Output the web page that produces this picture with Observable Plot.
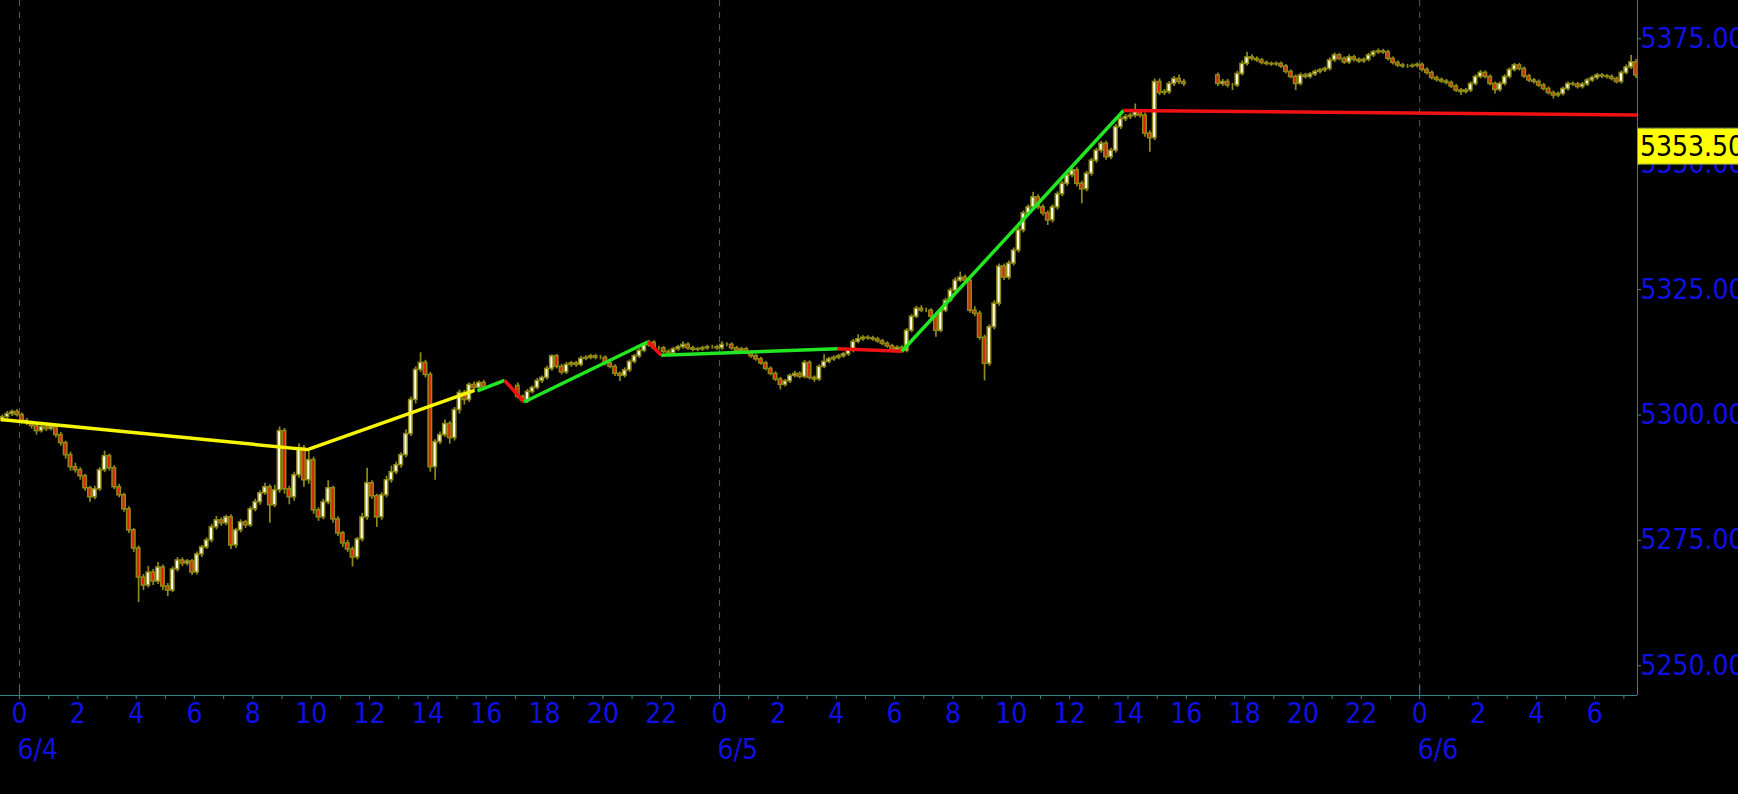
<!DOCTYPE html>
<html><head><meta charset="utf-8">
<script src="https://cdn.jsdelivr.net/npm/d3@7"></script>
<script src="https://cdn.jsdelivr.net/npm/@observablehq/plot@0.6"></script>
<style>
html,body{margin:0;padding:0;background:#000;overflow:hidden;}
#chart svg{display:block;}
</style></head><body><div id="chart"></div>
<script>
// ---- data: 10-minute candles, three sessions ----
const sessionStarts = ["2024-06-03T23:20:00Z", "2024-06-04T17:00:00Z", "2024-06-05T17:00:00Z"];
const sessionFirstOpen = [5299.2, 5305.8, 5367.7];

const closeA = [
  5299.6, 5300.2, 5300.6, 5300.0,
  5298.8, 5298.4, 5297.8, 5296.8, 5297.6, 5297.2,
  5297.6, 5296.0, 5294.4, 5292.0, 5289.6, 5289.0,
  5287.8, 5285.4, 5283.6, 5285.2, 5289.0, 5291.8,
  5289.4, 5285.6, 5284.0, 5281.2, 5277.0, 5273.4,
  5267.6, 5266.0, 5268.6, 5266.8, 5269.6, 5265.8,
  5265.0, 5269.2, 5271.0, 5270.4, 5270.8, 5268.6,
  5272.2, 5273.6, 5275.0, 5277.6, 5279.0, 5278.4,
  5279.6, 5274.0, 5277.0, 5278.6, 5278.0, 5281.2,
  5282.6, 5284.4, 5285.6, 5282.0, 5285.0, 5296.8,
  5285.2, 5283.6, 5288.0, 5293.4, 5287.0, 5291.0,
  5281.0, 5279.6, 5282.6, 5285.4, 5279.2, 5276.4,
  5274.4, 5273.2, 5271.6, 5275.2, 5279.6, 5286.4,
  5283.8, 5279.6, 5284.0, 5287.0, 5288.6, 5290.0,
  5292.0, 5296.2, 5303.0, 5309.0, 5310.4, 5308.0,
  5289.6, 5294.6, 5296.0, 5298.2, 5295.4, 5301.0,
  5304.4, 5303.0, 5306.0, 5305.4, 5306.4, 5305.6
];
const upA = [
  .4,.5,.4,.5, .4,.5,.4,.5,.5,.4, .5,.4,.5,.4,.6,.8, .5,.4,.4,.6,.5,1.0,
  .4,.5,.6,.4,.5,.4, .5,.6,1.2,.6,1.0,.5, .6,.5,.6,.5,.4,.4, .5,.4,.5,.6,.8,.5,
  .4,.5,.4,.5,.4,.5, .6,.5,.8,.5,1.0,.8, .5,.6,.6,.8,.5,2.2, .6,.5,.6,1.5,.4,.5,
  .4,.6,.5,.4,.8,3.0, .5,.4,.5,.8,1.2,.6, .5,.8,.6,.6,2.0,.5, .5,.5,.6,.8,.5,.5,
  .6,.5,.4,.6,.4,.5
];
const dnA = [
  .6,.4,.5,.4, .6,.5,.6,.8,.4,.5, .4,.6,.6,.8,.8,.6, .8,.6,1.0,.5,.4,.5,
  .6,.5,.5,.6,.6,.8, 5.0,1.0,.5,.8,.6,.8, 1.2,.4,.5,.6,.5,.6, .5,.6,.4,.5,.5,.6,
  .5,.8,.6,.5,.6,.4, .5,.6,.4,3.6,.5,.6, 1.0,1.5,.8,.6,1.4,.8, .8,.8,.5,.5,.8,.6,
  .8,.6,1.9,.5,.5,.6, .6,2.0,.6,.5,.6,.5, .6,.5,.5,.8,.5,.6, 1.0,2.6,.5,.5,1.2,.6,
  .8,1.0,.5,.5,.6,.5
];

const closeB = [
  5303.6, 5302.8, 5304.6, 5305.4, 5306.8, 5307.4,
  5309.2, 5311.7, 5309.6, 5308.5, 5310.0, 5310.3,
  5310.0, 5311.2, 5311.4, 5311.7, 5311.4, 5311.4,
  5310.3, 5309.6, 5308.2, 5307.8, 5308.9, 5310.6,
  5311.7, 5312.8, 5313.9, 5314.4, 5313.3, 5313.3,
  5312.6, 5312.3, 5313.1, 5313.5, 5314.0, 5313.3,
  5313.0, 5313.1, 5313.3, 5313.5, 5313.5, 5313.3,
  5314.0, 5314.0, 5313.3, 5312.8, 5313.1, 5312.4,
  5311.7, 5311.1, 5310.3, 5309.2, 5308.2, 5307.1,
  5306.0, 5306.7, 5307.8, 5308.2, 5307.6, 5310.4,
  5307.4, 5307.1, 5309.6, 5310.6, 5311.1, 5311.4,
  5311.7, 5312.1, 5312.8, 5314.6, 5315.1, 5315.4,
  5315.3, 5315.1, 5314.7, 5314.2, 5313.7, 5313.0,
  5313.4, 5312.8, 5316.8, 5319.6, 5321.2, 5320.8,
  5320.8, 5319.6, 5316.8, 5320.8, 5322.8, 5324.8,
  5326.8, 5327.4, 5326.8, 5320.8, 5320.2, 5315.4,
  5310.2, 5317.5, 5322.2, 5329.6, 5327.4, 5330.2,
  5332.8, 5336.8, 5340.2, 5341.4, 5343.4, 5341.4,
  5340.2, 5338.8, 5341.4, 5344.0, 5346.1, 5347.8,
  5348.8, 5346.1, 5345.0, 5348.1, 5350.7, 5352.7,
  5354.1, 5351.4, 5352.7, 5357.4, 5359.0, 5359.4,
  5359.7, 5360.4, 5359.7, 5356.1, 5355.2, 5366.4,
  5364.2, 5364.4, 5366.0, 5367.0, 5366.4, 5366.0
];
const upB = [
  .6,.4,.5,.4,.5,.4, .5,.3,.4,.5,.5,.4, .4,.5,.4,.4,.4,.5, .4,.4,.4,.4,.5,.4,
  .4,.4,.4,.5,.4,.4, .4,.4,.4,.4,.6,.4, .4,.4,.4,.4,.4,.4, .6,.4,.4,.4,.4,.4,
  .4,.4,.4,.4,.4,.4, .4,.4,.4,.5,.4,.5, .4,.4,.4,1.4,.4,.4, .4,.4,.4,.5,.9,.4,
  .4,.4,.4,.4,.4,.4, .4,.4,.4,.4,.5,.6, .5,.4,.4,.5,.5,.5, .6,1.1,.5,.5,.8,.5,
  .5,.5,.6,.5,.5,.5, .5,.6,.5,.5,1.0,.5, .5,.5,.5,.5,.5,.5, .5,.5,.5,.5,.5,.5,
  .5,.5,.5,.5,.5,.5, .5,1.6,.5,.5,.5,.6, .6,.5,.5,.5,.8,.5
];
const dnB = [
  .4,.4,.5,.4,.4,.5, .4,.5,.4,.5,.4,.5, .5,.4,.4,.4,.4,.4, .5,.4,.5,1.1,.4,.4,
  .4,.4,.4,.4,.4,.4, .4,.4,.4,.4,.4,.4, .4,.4,.4,.4,.4,.4, .4,.4,.4,.4,.4,.4,
  .4,.4,.4,.4,.4,.4, 1.0,.4,.4,.4,.4,.4, .4,.6,.4,.4,.4,.4, .4,.4,.4,.4,.4,.4,
  .4,.4,.4,.4,.4,.4, .4,.5,.4,.4,.4,.4, .4,.5,1.3,.4,.4,.4, .4,.4,.5,.5,.6,.5,
  3.4,.5,.5,.5,.6,.5, .5,.5,.5,.5,.5,.5, .5,1.0,.5,.5,.5,.5, .5,.6,2.9,.5,.5,.5,
  .5,.6,.5,.5,.5,.5, .5,.5,.5,.7,2.8,.5, .5,.5,.5,.5,.5,.5
];

const closeC = [
  5366.0, 5366.4, 5365.7, 5365.7, 5368.0, 5370.0,
  5371.3, 5371.0, 5370.7, 5370.2, 5370.0, 5369.9,
  5370.0, 5369.5, 5368.4, 5367.4, 5366.0, 5367.7,
  5367.4, 5367.9, 5368.4, 5368.7, 5369.0, 5370.7,
  5371.7, 5371.0, 5370.3, 5371.3, 5370.8, 5370.5,
  5370.8, 5371.7, 5372.3, 5372.5, 5372.3, 5371.0,
  5370.2, 5369.7, 5369.5, 5369.5, 5369.6, 5369.8,
  5368.8, 5368.2, 5367.2, 5366.8, 5366.5, 5366.2,
  5365.5, 5364.7, 5364.4, 5364.7, 5366.0, 5367.4,
  5368.2, 5367.4, 5366.0, 5364.8, 5366.0, 5367.4,
  5368.8, 5369.7, 5369.0, 5367.5, 5366.7, 5366.4,
  5365.7, 5365.0, 5364.2, 5363.7, 5364.0, 5365.0,
  5366.0, 5365.9, 5365.4, 5365.9, 5366.7, 5367.2,
  5367.7, 5367.5, 5367.4, 5367.0, 5366.4, 5368.2,
  5369.3, 5370.3, 5367.7
];
const upC = [
  .5,.5,.5,.4,.5,.6, 1.0,.5,.4,.4,.4,.4, .4,.4,.4,.4,.4,.5, .4,.4,.4,.4,.4,.5,
  .5,.4,.4,.5,.4,.4, .4,.4,.4,.5,.4,.4, .4,.4,.4,.4,.4,.4, .4,.4,.4,.4,.4,.4,
  .4,.4,.4,.4,.4,.4, .5,.4,.4,.4,.4,.4, .4,.4,.4,.4,.4,.4, .4,.4,.4,.4,.4,.4,
  .4,.4,.4,.4,.4,.4, .4,.4,.4,.4,.4,.4, .5,1.4,.6
];
const dnC = [
  .5,.5,.5,1.0,.4,.4, .4,.4,.4,.4,.4,.4, .4,.4,.4,.4,1.3,.4, .4,.4,.4,.4,.4,.4,
  .4,.4,.4,.4,.4,.4, .4,.4,.4,.4,.4,.4, .4,.4,.4,.4,.4,.4, .4,.4,.4,.4,.4,.4,
  .4,.4,.7,.4,.4,.4, .4,.4,.4,.8,.4,.4, .4,.4,.4,.4,.4,.4, .4,.4,.4,.7,.4,.4,
  .4,.4,.4,.4,.4,.4, .4,.4,.4,.4,.4,.4, .4,.4,.6
];

// zig-zag overlay (pivot times as hours after 2024-06-04 00:00, prices)
const zigHours  = [-0.651, 9.87, 15.6,  15.7, 16.63,  16.63, 17.3,  17.3, 21.55,  21.55, 22.0,  22.0, 28.05,  28.05, 30.25,  30.25, 37.85,  37.85, 55.467];
const zigPrices = [5299.1, 5293.1, 5304.9,  5304.8, 5306.9,  5306.9, 5302.6,  5302.6, 5314.6,  5314.6, 5311.9,  5311.9, 5313.2,  5313.2, 5312.7,  5312.7, 5360.7,  5360.7, 5359.8];
const zigSegment = [0,0,0, 1,1, 2,2, 3,3, 4,4, 5,5, 6,6, 7,7, 8,8];
const zigColors = ["#f6f600", "#22e622", "#f01212", "#22e622", "#f01212", "#22e622", "#f01212", "#22e622", "#f01212"];

const yTicks = [5250, 5275, 5300, 5325, 5350, 5375];
const lastPrice = 5353.50;
const dayStarts = ["2024-06-04T00:00:00Z", "2024-06-05T00:00:00Z", "2024-06-06T00:00:00Z"];
const dayLabels = ["6/4", "6/5", "6/6"];

// ---- build ----
const H = 3600000, MIN = 60000;
const T0 = Date.parse("2024-06-04T00:00:00Z");
const xDomain = [new Date(T0 - 0.651 * H), new Date(T0 + 55.467 * H)];
const yDomain = [5244.08, 5382.64];

function session(start, firstOpen, closes, ups, dns) {
  const t0 = Date.parse(start);
  return closes.map((c, i) => {
    const o = i === 0 ? firstOpen : closes[i - 1];
    return {
      mid: new Date(t0 + i * 10 * MIN + 5 * MIN),
      o, c,
      h: Math.max(o, c) + ups[i],
      l: Math.min(o, c) - dns[i]
    };
  });
}
const bars = [
  ...session(sessionStarts[0], sessionFirstOpen[0], closeA, upA, dnA),
  ...session(sessionStarts[1], sessionFirstOpen[1], closeB, upB, dnB),
  ...session(sessionStarts[2], sessionFirstOpen[2], closeC, upC, dnC)
];
const upBars = bars.filter(d => d.c >= d.o);
const downBars = bars.filter(d => d.c < d.o);

const zig = zigHours.map((h, i) => ({t: new Date(T0 + h * H), p: zigPrices[i], seg: zigSegment[i], color: zigColors[zigSegment[i]]}));

const hourTicks = d3.utcHour.range(new Date(T0), xDomain[1]);
const labelTicks = hourTicks.filter(d => d.getUTCHours() % 2 === 0);
const days = dayStarts.map(d => new Date(d));
const dayLabelOf = new Map(days.map((d, i) => [+d, dayLabels[i]]));

const FONT = "'DejaVu Sans Condensed', 'DejaVu Sans', sans-serif";
const BLUE = "#1010e6", TEAL = "#2e8787", OLIVE = "#8e8a16";
const FS = 28;

const bodyHalf = 3.6 * MIN;
const chart = Plot.plot({
  width: 1738, height: 794,
  marginLeft: 0, marginTop: 0, marginRight: 101, marginBottom: 99,
  style: {background: "#000", fontFamily: FONT, overflow: "visible"},
  x: {type: "utc", domain: xDomain, axis: null},
  y: {domain: yDomain, axis: null},
  color: {type: "identity"},
  marks: [
    Plot.ruleX(days, {stroke: "#247575", strokeDasharray: "6,6", strokeWidth: 1}),
    Plot.ruleX(bars, {x: "mid", y1: "l", y2: "h", stroke: OLIVE, strokeWidth: 1.7, clip: true}),
    Plot.rect(upBars, {x1: d => new Date(+d.mid - bodyHalf), x2: d => new Date(+d.mid + bodyHalf), y1: "o", y2: "c", fill: "#fffdec", stroke: OLIVE, strokeWidth: 1.5, clip: true}),
    Plot.rect(downBars, {x1: d => new Date(+d.mid - bodyHalf), x2: d => new Date(+d.mid + bodyHalf), y1: "o", y2: "c", fill: "#e51e0c", stroke: OLIVE, strokeWidth: 1.5, clip: true}),
    Plot.line(zig, {x: "t", y: "p", z: "seg", stroke: "color", strokeWidth: 3.5, strokeLinecap: "butt", clip: true}),
    // frame lines
    Plot.ruleY([yDomain[0]], {stroke: TEAL, strokeWidth: 1}),
    Plot.ruleX([xDomain[1]], {stroke: TEAL, strokeWidth: 1}),
    Plot.ruleX(days, {y1: yDomain[0], y2: yDomain[0] + 9 / 5.016, stroke: TEAL, strokeWidth: 1}),
    // x axis
    Plot.axisX(hourTicks, {tickSize: 4, tickFormat: () => "", color: TEAL}),
    Plot.axisX(labelTicks, {tickSize: 0, tickPadding: 8, tickFormat: d => String(d.getUTCHours()), color: BLUE, fontSize: FS, fontFamily: FONT}),
    Plot.axisX(days, {tickSize: 0, tickPadding: 44, tickFormat: d => dayLabelOf.get(+d), textAnchor: "start", dx: -2, color: BLUE, fontSize: FS, fontFamily: FONT}),
    // y axis
    Plot.axisY(yTicks, {anchor: "right", tickSize: 3, tickFormat: () => "", color: TEAL}),
    Plot.axisY(yTicks, {anchor: "right", tickSize: 0, tickPadding: 3, tickFormat: d => d.toFixed(2), color: BLUE, fontSize: FS, fontFamily: FONT})
  ]
});

// last-price tag, positioned with the chart's own y scale
const ys = chart.scale("y");
const yy = ys.apply(lastPrice);
const svg = d3.select(chart);
const tag = svg.append("g");
tag.append("rect").attr("x", 1637.5).attr("y", yy - 18).attr("width", 110).attr("height", 36)
  .attr("fill", "#ffff00").attr("stroke", "#7f9a3a").attr("stroke-width", 1);
tag.append("text").attr("x", 1640).attr("y", yy).attr("dy", "0.36em").attr("text-anchor", "start")
  .attr("font-family", FONT).attr("font-size", FS).attr("fill", "#000").text(lastPrice.toFixed(2));

document.getElementById("chart").appendChild(chart);
</script></body></html>
